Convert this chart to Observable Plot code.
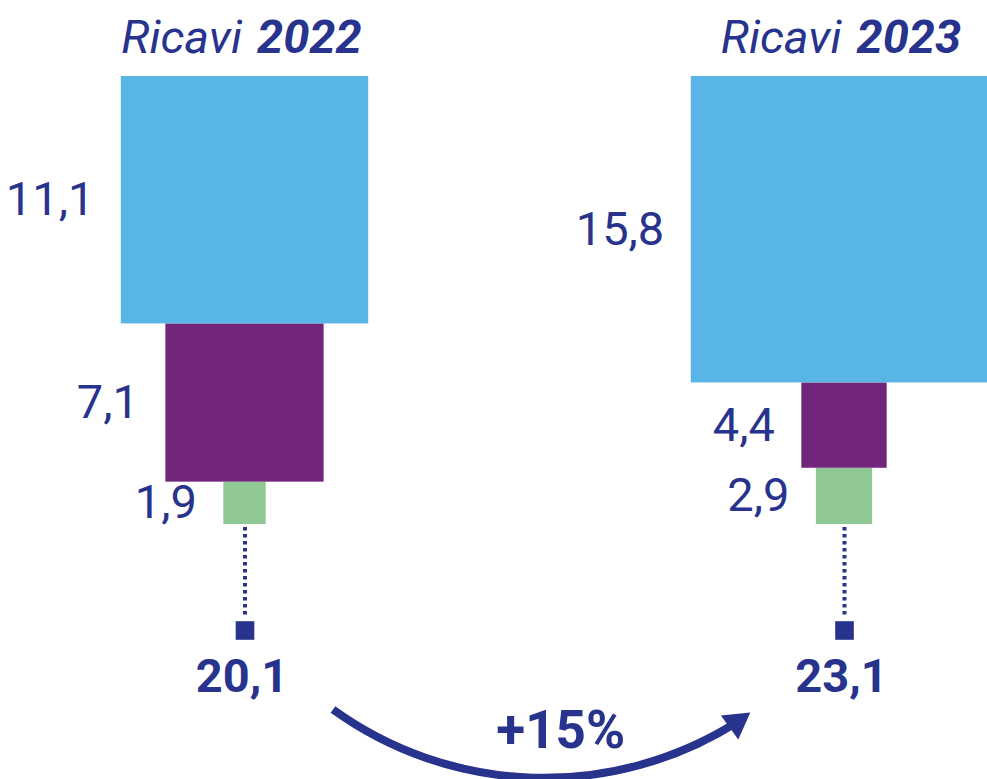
<!DOCTYPE html>
<html><head><meta charset="utf-8">
<script src="https://cdn.jsdelivr.net/npm/d3@7"></script>
<script src="https://cdn.jsdelivr.net/npm/@observablehq/plot@0.6"></script>
<style>html,body{margin:0;padding:0;background:#fff} #chart svg{display:block}</style>
</head><body><div id="chart"></div>
<script>
// ---- data ----
const years = ["2022", "2023"];
const segments = ["Segmento A", "Segmento B", "Segmento C"]; // top → bottom of each column
const values2022 = [11.1, 7.1, 1.9];
const values2023 = [15.8, 4.4, 2.9];
const titleWord = "Ricavi";

// ---- styles ----
const segColors = ["#58b5e6", "#72267b", "#8fc893"];
const ink = "#27338c";

// ---- layout (scale settings) ----
const W = 987, H = 779;
const K = 448;      // pixels per unit of column share (equal in x and y → square blocks)
const BASE = 524;   // pixel row of the columns' bottoms
const yv = p => (BASE - p) / K;
const xv = p => p / K;
const slot = {"2022": xv(244.5), "2023": xv(844)};

const series = {"2022": values2022, "2023": values2023};
const fmt = v => v.toFixed(1).replace(".", ",");

const rects = [];
const totals = [];
for (const yr of years) {
  const vals = series[yr];
  const total = d3.sum(vals);
  totals.push({year: yr, total});
  let cum = 0;
  for (let i = vals.length - 1; i >= 0; --i) {
    const share = vals[i] / total;
    rects.push({year: yr, segment: segments[i], value: vals[i],
      y1: cum, y2: cum + share, x1: slot[yr] - share / 2, x2: slot[yr] + share / 2});
    cum += share;
  }
}
const growth = Math.round((totals[1].total / totals[0].total - 1) * 100);
const link = [{from: totals[0], to: totals[1]}];

const chart = Plot.plot({
  width: W, height: H, margin: 0,
  x: {domain: [0, xv(W)], axis: null},
  y: {domain: [yv(H), yv(0)], axis: null},
  color: {domain: segments, range: segColors},
  style: {fontFamily: "Roboto, 'Open Sans', sans-serif", background: "#fff"},
  marks: [
    Plot.rect(rects, {x1: "x1", x2: "x2", y1: "y1", y2: "y2", fill: "segment"}),
    Plot.text(rects, {x: "x1", y: d => (d.y1 + d.y2) / 2, text: d => fmt(d.value),
      textAnchor: "end", lineAnchor: "middle", dx: -27, fontSize: 47, fill: ink}),
    Plot.text(years, {x: d => slot[d], y: yv(37), text: () => titleWord, textAnchor: "end",
      lineAnchor: "middle", dx: -3, fontSize: 47, fontStyle: "italic", fill: ink}),
    Plot.text(years, {x: d => slot[d], y: yv(37), text: d => d, textAnchor: "start",
      lineAnchor: "middle", dx: 12, fontSize: 47, fontStyle: "italic", fontWeight: "bold", fill: ink}),
    Plot.ruleX(totals, {x: d => slot[d.year], y1: 0, y2: yv(630), stroke: ink, strokeWidth: 4,
      strokeDasharray: "3.5,3.5", insetTop: 3, insetBottom: 13}),
    Plot.dot(totals, {x: d => slot[d.year], y: yv(630), symbol: "square", r: 10.5, fill: ink}),
    Plot.text(totals, {x: d => slot[d.year], y: yv(676), text: d => fmt(d.total), dx: -3,
      lineAnchor: "middle", fontSize: 47, fontWeight: "bold", fill: ink}),
    Plot.arrow(link, {x1: d => slot[d.from.year] + xv(88), y1: yv(709),
      x2: d => slot[d.to.year] - xv(108), y2: yv(722), bend: -34,
      stroke: ink, strokeWidth: 8, headLength: 0, strokeLinecap: "butt"}),
    Plot.dot(link, {x: d => slot[d.to.year] - xv(108), y: yv(722), symbol: "triangle",
      r: 11, rotate: 54, fill: ink}),
    Plot.text([growth], {x: (slot["2022"] + slot["2023"]) / 2, y: yv(731), text: d => `+${d}%`,
      dx: 16, lineAnchor: "middle", fontSize: 53, fontWeight: "bold", fill: ink})
  ]
});
document.getElementById("chart").append(chart);
</script>
</body></html>
